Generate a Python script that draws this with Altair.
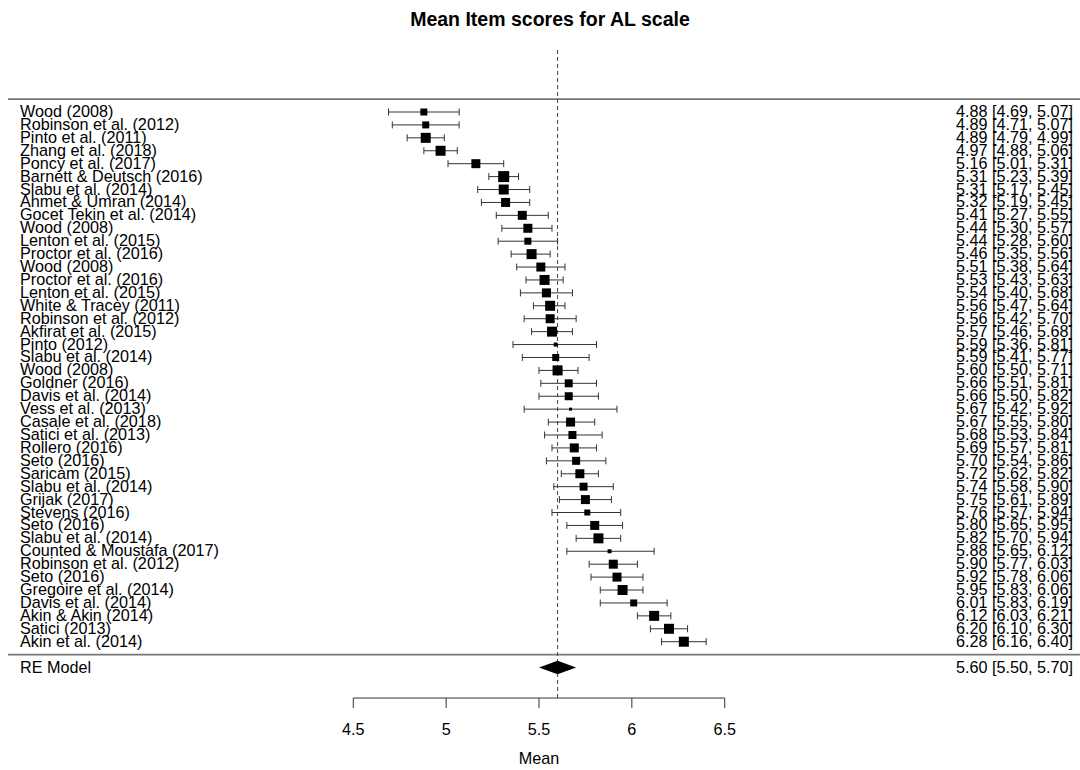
import altair as alt
import pandas as pd

studies = [
    "Wood (2008)", "Robinson et al. (2012)", "Pinto et al. (2011)", "Zhang et al. (2018)",
    "Poncy et al. (2017)", "Barnett & Deutsch (2016)", "Slabu et al. (2014)", "Ahmet & Umran (2014)",
    "Gocet Tekin et al. (2014)", "Wood (2008)", "Lenton et al. (2015)", "Proctor et al. (2016)",
    "Wood (2008)", "Proctor et al. (2016)", "Lenton et al. (2015)", "White & Tracey (2011)",
    "Robinson et al. (2012)", "Akfirat et al. (2015)", "Pinto (2012)", "Slabu et al. (2014)",
    "Wood (2008)", "Goldner (2016)", "Davis et al. (2014)", "Vess et al. (2013)",
    "Casale et al. (2018)", "Satici et al. (2013)", "Rollero (2016)", "Seto (2016)",
    "Saricam (2015)", "Slabu et al. (2014)", "Grijak (2017)", "Stevens (2016)",
    "Seto (2016)", "Slabu et al. (2014)", "Counted & Moustafa (2017)", "Robinson et al. (2012)",
    "Seto (2016)", "Gregoire et al. (2014)", "Davis et al. (2014)", "Akin & Akin (2014)",
    "Satici (2013)", "Akin et al. (2014)",
]
est = [4.88, 4.89, 4.89, 4.97, 5.16, 5.31, 5.31, 5.32, 5.41, 5.44, 5.44, 5.46, 5.51, 5.53,
       5.54, 5.56, 5.56, 5.57, 5.59, 5.59, 5.60, 5.66, 5.66, 5.67, 5.67, 5.68, 5.69, 5.70,
       5.72, 5.74, 5.75, 5.76, 5.80, 5.82, 5.88, 5.90, 5.92, 5.95, 6.01, 6.12, 6.20, 6.28]
lo = [4.69, 4.71, 4.79, 4.88, 5.01, 5.23, 5.17, 5.19, 5.27, 5.30, 5.28, 5.35, 5.38, 5.43,
      5.40, 5.47, 5.42, 5.46, 5.36, 5.41, 5.50, 5.51, 5.50, 5.42, 5.55, 5.53, 5.57, 5.54,
      5.62, 5.58, 5.61, 5.57, 5.65, 5.70, 5.65, 5.77, 5.78, 5.83, 5.83, 6.03, 6.10, 6.16]
hi = [5.07, 5.07, 4.99, 5.06, 5.31, 5.39, 5.45, 5.45, 5.55, 5.57, 5.60, 5.56, 5.64, 5.63,
      5.68, 5.64, 5.70, 5.68, 5.81, 5.77, 5.71, 5.81, 5.82, 5.92, 5.80, 5.84, 5.81, 5.86,
      5.82, 5.90, 5.89, 5.94, 5.95, 5.94, 6.12, 6.03, 6.06, 6.06, 6.19, 6.21, 6.30, 6.40]
# relative study weights (shown as square side)
weights = [7, 7, 10, 10, 9, 11, 10, 9, 9, 9, 7, 10, 9, 10, 9, 10, 9, 10, 4, 7,
           10, 8, 8, 3, 9, 8, 9, 8, 9, 8, 9, 6, 9, 10, 4, 9, 9, 10, 7, 10, 10, 10]

re_label = "RE Model"
re_est, re_lo, re_hi = 5.60, 5.50, 5.70
tick_values = [4.5, 5.0, 5.5, 6.0, 6.5]
tick_labels = ["4.5", "5", "5.5", "6", "6.5"]
title_text = "Mean Item scores for AL scale"
xlabel = "Mean"

FONT = "Liberation Sans"
FS = 16.2

k = len(studies)
df = pd.DataFrame({"study": studies, "est": est, "lo": lo, "hi": hi, "w": weights,
                   "row": list(range(k))})
re_row = k + 1
axis_row = 45.36

xs = alt.Scale(domain=[2.5975, 8.4133], nice=False, zero=False)
ys = alt.Scale(domain=[-8.669, 50.93], nice=False, zero=False, reverse=True)


def X(f):
    return alt.X(f, type="quantitative", scale=xs, axis=None)


def Y(f):
    return alt.Y(f, type="quantitative", scale=ys, axis=None)


base = alt.Chart(df)

hlines = alt.Chart(pd.DataFrame({"r": [-1, k]})).mark_rule(color="#777777", strokeWidth=1.6).encode(
    x=alt.value(8), x2=alt.value(1080), y=Y("r"))

dashed = alt.Chart(pd.DataFrame({"x": [re_est], "y1": [-4.8], "y2": [axis_row]})).mark_rule(
    color="#444444", strokeDash=[4, 3], strokeWidth=1).encode(x=X("x"), y=Y("y1"), y2="y2")

ci = base.mark_rule(color="#333333", strokeWidth=1).encode(x=X("lo"), x2="hi", y=Y("row"))
caps_lo = base.transform_calculate(a="datum.row-0.27", b="datum.row+0.27").mark_rule(
    color="#333333", strokeWidth=1).encode(x=X("lo"), y=Y("a:Q"), y2="b:Q")
caps_hi = base.transform_calculate(a="datum.row-0.27", b="datum.row+0.27").mark_rule(
    color="#333333", strokeWidth=1).encode(x=X("hi"), y=Y("a:Q"), y2="b:Q")

squares = base.transform_calculate(area="datum.w*datum.w").mark_square(
    color="black", opacity=1, filled=True).encode(
    x=X("est"), y=Y("row"), size=alt.Size("area:Q", scale=None))

dia = pd.DataFrame({"x": [re_lo, re_est, re_hi],
                    "t": [re_row, re_row - 0.52, re_row],
                    "b": [re_row, re_row + 0.52, re_row]})
diamond = alt.Chart(dia).mark_area(color="black", orient="vertical", opacity=1).encode(
    x=X("x"), y=Y("t"), y2="b")

left_text = base.mark_text(align="left", baseline="middle", font=FONT, fontSize=FS,
                           color="black").encode(x=alt.value(20), y=Y("row"), text="study:N")
right_text = base.transform_calculate(
    lab="format(datum.est,'.2f')+' ['+format(datum.lo,'.2f')+', '+format(datum.hi,'.2f')+']'"
).mark_text(align="right", baseline="middle", font=FONT, fontSize=FS, color="black").encode(
    x=alt.value(1073), y=Y("row"), text="lab:N")

re_df = pd.DataFrame({"label": [re_label], "est": [re_est], "lo": [re_lo], "hi": [re_hi],
                      "row": [re_row]})
re_left = alt.Chart(re_df).mark_text(align="left", baseline="middle", font=FONT, fontSize=FS,
                                     color="black").encode(x=alt.value(20), y=Y("row"), text="label:N")
re_right = alt.Chart(re_df).transform_calculate(
    lab="format(datum.est,'.2f')+' ['+format(datum.lo,'.2f')+', '+format(datum.hi,'.2f')+']'"
).mark_text(align="right", baseline="middle", font=FONT, fontSize=FS, color="black").encode(
    x=alt.value(1073), y=Y("row"), text="lab:N")

ticks_df = pd.DataFrame({"v": tick_values, "lab": tick_labels, "y1": [axis_row] * 5,
                         "y2": [axis_row + 0.78] * 5})
axis_line = alt.Chart(pd.DataFrame({"a": [tick_values[0]], "b": [tick_values[-1]],
                                    "y": [axis_row]})).mark_rule(color="#333333", strokeWidth=1).encode(
    x=X("a"), x2="b", y=Y("y"))
ticks = alt.Chart(ticks_df).mark_rule(color="#333333", strokeWidth=1).encode(
    x=X("v"), y=Y("y1"), y2="y2")
tick_text = alt.Chart(ticks_df).mark_text(baseline="middle", align="center", font=FONT,
                                          fontSize=FS, color="black").encode(
    x=X("v"), y=alt.value(730), text="lab:N")

xlab = alt.Chart(pd.DataFrame({"t": [xlabel]})).mark_text(
    font=FONT, fontSize=FS, baseline="middle", align="center", color="black").encode(
    x=alt.value(539), y=alt.value(759), text="t:N")
title = alt.Chart(pd.DataFrame({"t": [title_text]})).mark_text(
    font=FONT, fontSize=19.5, fontWeight="bold", baseline="alphabetic", align="center",
    color="black").encode(x=alt.value(550), y=alt.value(26), text="t:N")

chart = alt.layer(hlines, dashed, ci, caps_lo, caps_hi, squares, diamond, left_text, right_text,
                  re_left, re_right, axis_line, ticks, tick_text, xlab, title).properties(
    width=1080, height=770, padding=0, autosize="none", background="white"
).configure_view(stroke=None)

chart.save("out.html", embed_options={"renderer": "svg", "actions": False})
